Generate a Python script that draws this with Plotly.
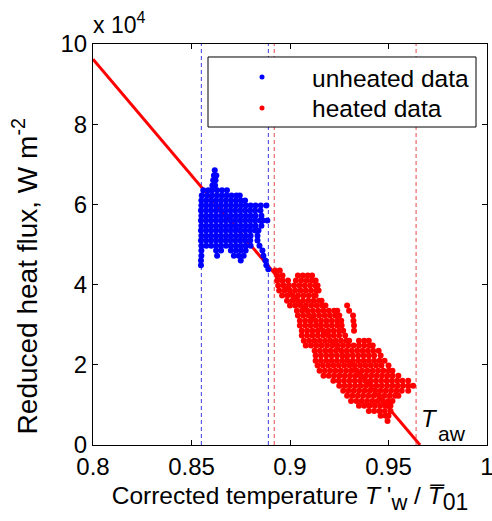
import plotly.graph_objects as go

# ---------------- data ----------------
x_ticks = [0.8, 0.85, 0.9, 0.95, 1.0]
x_tick_labels = ["0.8", "0.85", "0.9", "0.95", "1"]
y_ticks = [0, 2, 4, 6, 8, 10]
y_tick_labels = ["0", "2", "4", "6", "8", "10"]

# linear fit through both data sets (reduced heat flux in units of 1e4 W m^-2)
fit_x = [0.8, 0.966]
fit_y = [9.62, 0.0]

# dashed limits of the unheated / heated temperature ranges
unheated_limits = [0.855, 0.889]
heated_limits = [0.892, 0.964]

series_names = ["unheated data", "heated data"]

# unheated data, (heat flux, [temperatures]) rows
unheated_rows = [
    (6.85, [0.8618]),
    (6.72, [0.8614, 0.8626]),
    (6.60, [0.8610, 0.8622]),
    (6.47, [0.8606, 0.8620]),
    (6.35, [0.8560, 0.8585, 0.8605, 0.8630, 0.8655, 0.8680]),
    (6.22, [0.8552, 0.8578, 0.8603, 0.8628, 0.8653, 0.8678, 0.8703, 0.8728, 0.8745]),
    (6.10, [0.8550, 0.8575, 0.8600, 0.8625, 0.8650, 0.8675, 0.8700, 0.8725, 0.8750, 0.8772]),
    (5.97, [0.8550, 0.8575, 0.8600, 0.8625, 0.8650, 0.8675, 0.8700, 0.8725, 0.8750, 0.8775, 0.8800, 0.8825, 0.8852, 0.8880]),
    (5.85, [0.8548, 0.8573, 0.8598, 0.8623, 0.8648, 0.8673, 0.8698, 0.8723, 0.8748, 0.8773, 0.8798, 0.8823, 0.8850]),
    (5.72, [0.8550, 0.8575, 0.8600, 0.8625, 0.8650, 0.8675, 0.8700, 0.8725, 0.8750, 0.8775, 0.8800, 0.8825, 0.8855]),
    (5.60, [0.8548, 0.8573, 0.8598, 0.8623, 0.8648, 0.8673, 0.8698, 0.8723, 0.8748, 0.8773, 0.8798, 0.8823, 0.8848, 0.8862, 0.8885]),
    (5.47, [0.8550, 0.8575, 0.8600, 0.8625, 0.8650, 0.8675, 0.8700, 0.8725, 0.8750, 0.8775, 0.8800, 0.8825, 0.8855]),
    (5.35, [0.8548, 0.8573, 0.8598, 0.8623, 0.8648, 0.8673, 0.8698, 0.8723, 0.8748, 0.8773, 0.8798, 0.8823, 0.8840]),
    (5.22, [0.8550, 0.8575, 0.8600, 0.8625, 0.8650, 0.8675, 0.8700, 0.8725, 0.8750, 0.8775, 0.8800, 0.8835]),
    (5.10, [0.8548, 0.8573, 0.8598, 0.8623, 0.8648, 0.8673, 0.8698, 0.8723, 0.8748, 0.8773, 0.8798, 0.8835]),
    (4.97, [0.8550, 0.8575, 0.8600, 0.8625, 0.8650, 0.8675, 0.8700, 0.8725, 0.8750, 0.8775, 0.8800, 0.8845]),
    (4.85, [0.8550, 0.8625, 0.8650, 0.8700, 0.8725, 0.8750, 0.8775, 0.8860]),
    (4.72, [0.8550, 0.8630, 0.8715, 0.8740, 0.8765, 0.8865]),
    (4.60, [0.8548, 0.8750, 0.8875]),
    (4.48, [0.8548, 0.8880]),
    (4.38, [0.8890]),
]

# heated data, (heat flux, [temperatures]) rows
heated_rows = [
    (4.35, [0.8925, 0.8948]),
    (4.23, [0.8935, 0.8962, 0.9040, 0.9065, 0.9090, 0.9112]),
    (4.10, [0.8935, 0.8962, 0.8990, 0.9030, 0.9057, 0.9084, 0.9110, 0.9130]),
    (3.98, [0.8940, 0.8967, 0.8994, 0.9021, 0.9048, 0.9075, 0.9102, 0.9129, 0.9140]),
    (3.85, [0.8945, 0.8972, 0.8999, 0.9026, 0.9053, 0.9080, 0.9107, 0.9134, 0.9145]),
    (3.73, [0.8960, 0.8987, 0.9014, 0.9041, 0.9068, 0.9095, 0.9122, 0.9130]),
    (3.60, [0.8985, 0.9012, 0.9039, 0.9066, 0.9093, 0.9120, 0.9147, 0.9160]),
    (3.48, [0.9000, 0.9027, 0.9054, 0.9081, 0.9108, 0.9135, 0.9162, 0.9180, 0.9290]),
    (3.35, [0.9035, 0.9062, 0.9089, 0.9116, 0.9143, 0.9170, 0.9197, 0.9224, 0.9240, 0.9300]),
    (3.23, [0.9040, 0.9067, 0.9094, 0.9121, 0.9148, 0.9175, 0.9202, 0.9229, 0.9250, 0.9320]),
    (3.10, [0.9050, 0.9077, 0.9104, 0.9131, 0.9158, 0.9185, 0.9212, 0.9239, 0.9260, 0.9322]),
    (2.98, [0.9050, 0.9077, 0.9104, 0.9131, 0.9158, 0.9185, 0.9212, 0.9239, 0.9262, 0.9325]),
    (2.85, [0.9060, 0.9087, 0.9114, 0.9141, 0.9168, 0.9195, 0.9222, 0.9249, 0.9270, 0.9325]),
    (2.73, [0.9060, 0.9087, 0.9114, 0.9141, 0.9168, 0.9195, 0.9222, 0.9249, 0.9280]),
    (2.60, [0.9070, 0.9097, 0.9124, 0.9151, 0.9178, 0.9205, 0.9232, 0.9259, 0.9286, 0.9300, 0.9350, 0.9377, 0.9400]),
    (2.48, [0.9080, 0.9107, 0.9134, 0.9161, 0.9188, 0.9215, 0.9242, 0.9269, 0.9296, 0.9323, 0.9350, 0.9377, 0.9404, 0.9420]),
    (2.35, [0.9125, 0.9152, 0.9179, 0.9206, 0.9233, 0.9260, 0.9287, 0.9314, 0.9341, 0.9368, 0.9395, 0.9422, 0.9450]),
    (2.23, [0.9130, 0.9157, 0.9184, 0.9211, 0.9238, 0.9265, 0.9292, 0.9319, 0.9346, 0.9373, 0.9400, 0.9427, 0.9460]),
    (2.10, [0.9130, 0.9157, 0.9184, 0.9211, 0.9238, 0.9265, 0.9292, 0.9319, 0.9346, 0.9373, 0.9400, 0.9427, 0.9454, 0.9480]),
    (1.98, [0.9140, 0.9167, 0.9194, 0.9221, 0.9248, 0.9275, 0.9302, 0.9329, 0.9356, 0.9383, 0.9410, 0.9437, 0.9464, 0.9500]),
    (1.85, [0.9150, 0.9177, 0.9204, 0.9231, 0.9258, 0.9285, 0.9312, 0.9339, 0.9366, 0.9393, 0.9420, 0.9447, 0.9474, 0.9501, 0.9520]),
    (1.73, [0.9170, 0.9197, 0.9224, 0.9251, 0.9278, 0.9305, 0.9332, 0.9359, 0.9386, 0.9413, 0.9440, 0.9467, 0.9494, 0.9521, 0.9550]),
    (1.60, [0.9220, 0.9247, 0.9274, 0.9301, 0.9328, 0.9355, 0.9382, 0.9409, 0.9436, 0.9463, 0.9490, 0.9517, 0.9544, 0.9571, 0.9600]),
    (1.48, [0.9250, 0.9277, 0.9304, 0.9331, 0.9358, 0.9385, 0.9412, 0.9439, 0.9466, 0.9493, 0.9520, 0.9547, 0.9574, 0.9601, 0.9625]),
    (1.35, [0.9270, 0.9297, 0.9324, 0.9351, 0.9378, 0.9405, 0.9432, 0.9459, 0.9486, 0.9513, 0.9540, 0.9567, 0.9600]),
    (1.23, [0.9290, 0.9317, 0.9344, 0.9371, 0.9398, 0.9425, 0.9452, 0.9479, 0.9506, 0.9533, 0.9550]),
    (1.10, [0.9310, 0.9337, 0.9364, 0.9391, 0.9418, 0.9445, 0.9472, 0.9499, 0.9520]),
    (0.98, [0.9350, 0.9377, 0.9404, 0.9431, 0.9458, 0.9485, 0.9510]),
    (0.85, [0.9400, 0.9427, 0.9454, 0.9481, 0.9510]),
    (0.73, [0.9460, 0.9485, 0.9500]),
    (0.60, [0.9495]),
]


def flatten(rows):
    xs, ys = [], []
    for yv, xlist in rows:
        for xv in xlist:
            xs.append(xv)
            ys.append(yv)
    return xs, ys


ux, uy = flatten(unheated_rows)
hx, hy = flatten(heated_rows)

BLUE = "#0000ff"
RED = "#ff0000"
FONT = "Liberation Sans, Arial, Helvetica, sans-serif"

fig = go.Figure()

fig.add_trace(go.Scatter(x=fit_x, y=fit_y, mode="lines",
                         line=dict(color=RED, width=3), showlegend=False,
                         hoverinfo="skip"))
fig.add_trace(go.Scatter(x=ux, y=uy, mode="markers", name=series_names[0],
                         marker=dict(color=BLUE, size=6, line=dict(width=0))))
fig.add_trace(go.Scatter(x=hx, y=hy, mode="markers", name=series_names[1],
                         marker=dict(color=RED, size=6, line=dict(width=0))))

for xv in unheated_limits:
    fig.add_shape(type="line", xref="x", yref="paper", x0=xv, x1=xv, y0=0, y1=1,
                  line=dict(color="#3a3ae6", width=1, dash="4px,3px"), layer="below")
for xv in heated_limits:
    fig.add_shape(type="line", xref="x", yref="paper", x0=xv, x1=xv, y0=0, y1=1,
                  line=dict(color="#e84848", width=1, dash="4px,3px"), layer="below")

axis_common = dict(showline=True, linecolor="black", linewidth=1, mirror="ticks",
                   ticks="inside", ticklen=5, tickcolor="black", showgrid=False,
                   zeroline=False, ticklabeloverflow="allow", automargin=False,
                   tickfont=dict(size=24, color="black", family=FONT))

fig.update_xaxes(range=[0.8, 1.0], tickvals=x_ticks, ticktext=x_tick_labels,
                 title=dict(text="Corrected temperature <i>T</i> '<sub><span style='font-size:22px'>w</span></sub> / "
                                 "<i>T\u0305</i><sub><span style='font-size:23px'>01</span></sub>",
                            font=dict(size=24.5, color="black", family=FONT), standoff=8),
                 **axis_common)
fig.update_yaxes(range=[0, 10], tickvals=y_ticks, ticktext=y_tick_labels, **axis_common)

fig.add_annotation(text="Reduced heat flux, W m<sup>-2</sup>", textangle=-90,
                   xref="paper", yref="paper", x=-0.172, y=0.421,
                   xanchor="center", yanchor="middle", showarrow=False,
                   font=dict(size=28, color="black", family=FONT))
fig.add_annotation(text="x 10<sup>4</sup>", xref="paper", yref="paper", x=0, y=1,
                   xanchor="left", yanchor="bottom", xshift=-2, yshift=4, showarrow=False,
                   font=dict(size=23, color="black", family=FONT))
fig.add_annotation(text="<i>T</i>", xref="x", yref="y", x=0.9655, y=0.42,
                   xanchor="left", yanchor="bottom", yshift=-6, showarrow=False,
                   font=dict(size=24, color="black", family=FONT))
fig.add_annotation(text="aw", xref="x", yref="y", x=0.9740, y=0.05,
                   xanchor="left", yanchor="bottom", yshift=-4, showarrow=False,
                   font=dict(size=21, color="black", family=FONT))

# legend box drawn on top of the dashed lines
fig.add_shape(type="rect", xref="paper", yref="paper", x0=0.2919, x1=0.9721,
              y0=0.793, y1=0.9676, line=dict(color="black", width=1),
              fillcolor="white", layer="above")
legend_rows = [(0.9177, 0.9137, BLUE, series_names[0]), (0.8404, 0.8390, RED, series_names[1])]
for ydot, ytxt, col, label in legend_rows:
    fig.add_shape(type="circle", xref="paper", yref="paper", xsizemode="pixel",
                  ysizemode="pixel", xanchor=0.429, yanchor=ydot, x0=-2.5, x1=2.5,
                  y0=-2.5, y1=2.5, line=dict(width=0), fillcolor=col, layer="above")
    fig.add_annotation(text=label, xref="paper", yref="paper", x=0.5508, y=ytxt,
                       xanchor="left", yanchor="middle", showarrow=False,
                       font=dict(size=24.5, color="black", family=FONT))

fig.update_layout(
    width=492, height=521,
    margin=dict(l=93, r=5, t=44, b=76, autoexpand=False),
    plot_bgcolor="white", paper_bgcolor="white",
    font=dict(family=FONT, size=24, color="black"),
    showlegend=False,
)

# remove the default 8 px page margin so the figure fills the window exactly
fig.write_html("out.html", config={"displayModeBar": False},
               post_script="document.body.style.margin='0px';")
